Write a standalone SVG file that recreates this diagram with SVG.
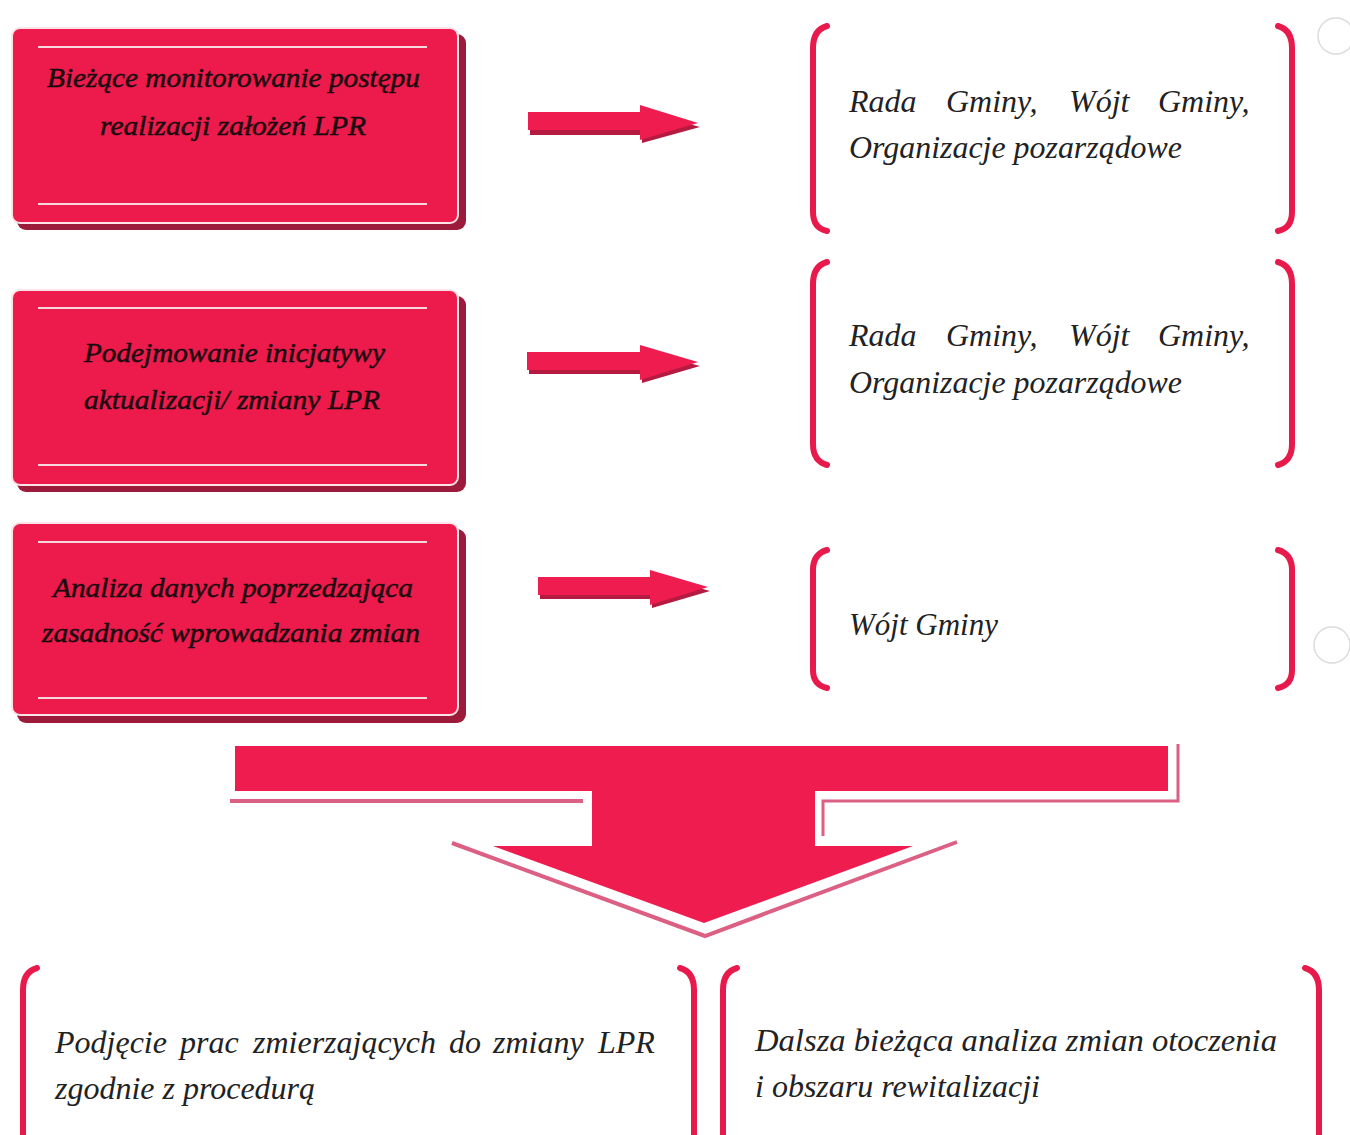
<svg xmlns="http://www.w3.org/2000/svg" width="1350" height="1135" viewBox="0 0 1350 1135">
<style>
.bg{fill:#ffffff}
.shadow{fill:#9c1a3a}
.box{fill:#ec1b4b;stroke:#fbe3e8;stroke-width:2}
.rule{stroke:#f7d6de;stroke-width:2}
.bt{font-family:"Liberation Serif","Times New Roman",serif;font-style:italic;font-size:28px;fill:#1a0a10;stroke:#1a0a10;stroke-width:0.5}
.rt{font-family:"Liberation Serif","Times New Roman",serif;font-style:italic;font-size:32px;fill:#222222}
.br{fill:none;stroke:#e8194b;stroke-width:6;stroke-linecap:round}
.arr{fill:#ee1c4f}
.arrs{fill:#b51a40}
.sl{stroke:#dc5f84;stroke-width:4;fill:none}
.hole{fill:none;stroke:#dcdcdc;stroke-width:1.5}
</style>
<rect class="bg" x="0" y="0" width="1350" height="1135"/>
<circle class="hole" cx="1336" cy="36" r="18"/>
<circle class="hole" cx="1332" cy="645" r="18"/>

<g id="node-box1">
<rect class="shadow" x="17" y="34" width="449" height="196" rx="9"/>
<rect class="box" x="12" y="28" width="446" height="195" rx="8"/>
<line class="rule" x1="38" y1="47" x2="427" y2="47"/>
<line class="rule" x1="38" y1="204" x2="427" y2="204"/>
<text class="bt" x="47" y="87" textLength="373" lengthAdjust="spacingAndGlyphs">Bieżące monitorowanie postępu</text>
<text class="bt" x="100" y="135" textLength="266" lengthAdjust="spacingAndGlyphs">realizacji założeń LPR</text>
</g>

<g id="node-box2">
<rect class="shadow" x="17" y="296" width="449" height="196" rx="9"/>
<rect class="box" x="12" y="290" width="446" height="195" rx="8"/>
<line class="rule" x1="38" y1="308" x2="427" y2="308"/>
<line class="rule" x1="38" y1="465" x2="427" y2="465"/>
<text class="bt" x="84" y="362" textLength="301" lengthAdjust="spacingAndGlyphs">Podejmowanie inicjatywy</text>
<text class="bt" x="84" y="409" textLength="296" lengthAdjust="spacingAndGlyphs">aktualizacji/ zmiany LPR</text>
</g>

<g id="node-box3">
<rect class="shadow" x="17" y="529" width="449" height="194" rx="9"/>
<rect class="box" x="12" y="523" width="446" height="192" rx="8"/>
<line class="rule" x1="38" y1="542" x2="427" y2="542"/>
<line class="rule" x1="38" y1="698" x2="427" y2="698"/>
<text class="bt" x="53" y="597" textLength="360" lengthAdjust="spacingAndGlyphs">Analiza danych poprzedzająca</text>
<text class="bt" x="42" y="642" textLength="378" lengthAdjust="spacingAndGlyphs">zasadność wprowadzania zmian</text>
</g>

<g id="node-who1">
<path class="br" d="M827,26 Q813,30 813,48 L813,212 Q813,228 827,231"/>
<path class="br" d="M1278,26 Q1292,30 1292,48 L1292,212 Q1292,228 1278,231"/>
<text class="rt" y="112"><tspan x="849">Rada</tspan><tspan x="946">Gminy,</tspan><tspan x="1069">Wójt</tspan><tspan x="1158">Gminy,</tspan></text>
<text class="rt" x="849" y="158" textLength="333" lengthAdjust="spacingAndGlyphs">Organizacje pozarządowe</text>
</g>

<g id="node-who2">
<path class="br" d="M827,262 Q813,266 813,284 L813,444 Q813,461 827,465"/>
<path class="br" d="M1278,262 Q1292,266 1292,284 L1292,444 Q1292,461 1278,465"/>
<text class="rt" y="346"><tspan x="849">Rada</tspan><tspan x="946">Gminy,</tspan><tspan x="1069">Wójt</tspan><tspan x="1158">Gminy,</tspan></text>
<text class="rt" x="849" y="393" textLength="333" lengthAdjust="spacingAndGlyphs">Organizacje pozarządowe</text>
</g>

<g id="node-who3">
<path class="br" d="M827,550 Q813,554 813,570 L813,670 Q813,685 827,688"/>
<path class="br" d="M1278,550 Q1292,554 1292,570 L1292,670 Q1292,685 1278,688"/>
<text class="rt" x="849" y="635" textLength="149" lengthAdjust="spacingAndGlyphs">Wójt Gminy</text>
</g>

<g id="node-result1">
<path class="br" d="M37,968 Q23,972 23,990 L23,1140"/>
<path class="br" d="M680,968 Q694,972 694,990 L694,1140"/>
<text class="rt" y="1053"><tspan x="55">Podjęcie</tspan><tspan x="180">prac</tspan><tspan x="253">zmierzających</tspan><tspan x="449">do</tspan><tspan x="493">zmiany</tspan><tspan x="598">LPR</tspan></text>
<text class="rt" x="55" y="1099" textLength="260" lengthAdjust="spacingAndGlyphs">zgodnie z procedurą</text>
</g>

<g id="node-result2">
<path class="br" d="M737,968 Q723,972 723,990 L723,1140"/>
<path class="br" d="M1305,968 Q1319,972 1319,990 L1319,1140"/>
<text class="rt" x="755" y="1051" textLength="522" lengthAdjust="spacingAndGlyphs">Dalsza bieżąca analiza zmian otoczenia</text>
<text class="rt" x="755" y="1097" textLength="285" lengthAdjust="spacingAndGlyphs">i obszaru rewitalizacji</text>
</g>

<g id="connectors">
<path class="arrs" d="M530,118 H642 V111 L700,127 L642,143 V135 H530 Z"/>
<path class="arr" d="M528,112 H640 V105 L698,123 L640,140 V130 H528 Z"/>
<path class="arrs" d="M529,357 H642 V350 L700,366 L642,383 V374 H529 Z"/>
<path class="arr" d="M527,352 H640 V345 L698,362 L640,380 V370 H527 Z"/>
<path class="arrs" d="M540,582 H652 V575 L710,591 L652,608 V599 H540 Z"/>
<path class="arr" d="M538,577 H650 V570 L708,587 L650,605 V595 H538 Z"/>

<g id="big-arrow">
<line class="sl" x1="230" y1="801" x2="583" y2="801"/>
<path class="sl" d="M823,836 V801 H1178 V744" style="stroke-width:3"/>
<path class="sl" d="M452,843 L705,936 L957,842"/>
<path class="arr" d="M235,746 H1168 V791 H815 V846 H913 L704,923 L493,846 H592 V791 H235 Z"/>
</g>
</g>
</svg>
